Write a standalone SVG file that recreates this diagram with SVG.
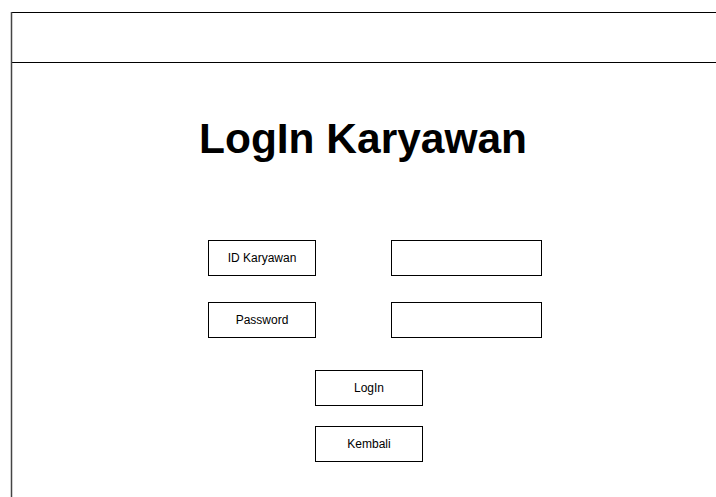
<svg xmlns="http://www.w3.org/2000/svg" width="716" height="497" viewBox="0 0 716 497">
<style>
.box{fill:#fff;stroke:#000;stroke-width:1}
.lbl{font-family:"Liberation Sans",Arial,sans-serif;font-size:12px;fill:#000;text-anchor:middle}
.title{font-family:"Liberation Sans",Arial,sans-serif;font-size:43px;font-weight:bold;fill:#000}
.frame{fill:none;stroke:#000;stroke-width:1}
</style>
<rect width="716" height="497" fill="#fff"/>
<g id="frame">
<line class="frame" x1="11" y1="12.5" x2="716" y2="12.5"/>
<line class="frame" x1="11" y1="62.5" x2="716" y2="62.5"/>
<line x1="11.5" y1="12" x2="11.5" y2="497" stroke="#444" stroke-width="1.5"/>
</g>
<g id="title">
<text class="title" x="199" y="153" textLength="328" lengthAdjust="spacingAndGlyphs">LogIn Karyawan</text>
</g>
<g id="label-id">
<rect class="box" x="208.5" y="240.5" width="107" height="35"/>
<text class="lbl" x="262" y="262">ID Karyawan</text>
</g>
<g id="input-id">
<rect class="box" x="391.5" y="240.5" width="150" height="35"/>
</g>
<g id="label-password">
<rect class="box" x="208.5" y="302.5" width="107" height="35"/>
<text class="lbl" x="262" y="324">Password</text>
</g>
<g id="input-password">
<rect class="box" x="391.5" y="302.5" width="150" height="35"/>
</g>
<g id="btn-login">
<rect class="box" x="315.5" y="370.5" width="107" height="35"/>
<text class="lbl" x="369" y="392">LogIn</text>
</g>
<g id="btn-kembali">
<rect class="box" x="315.5" y="426.5" width="107" height="35"/>
<text class="lbl" x="369" y="448">Kembali</text>
</g>
<g id="connectors"></g>
</svg>
